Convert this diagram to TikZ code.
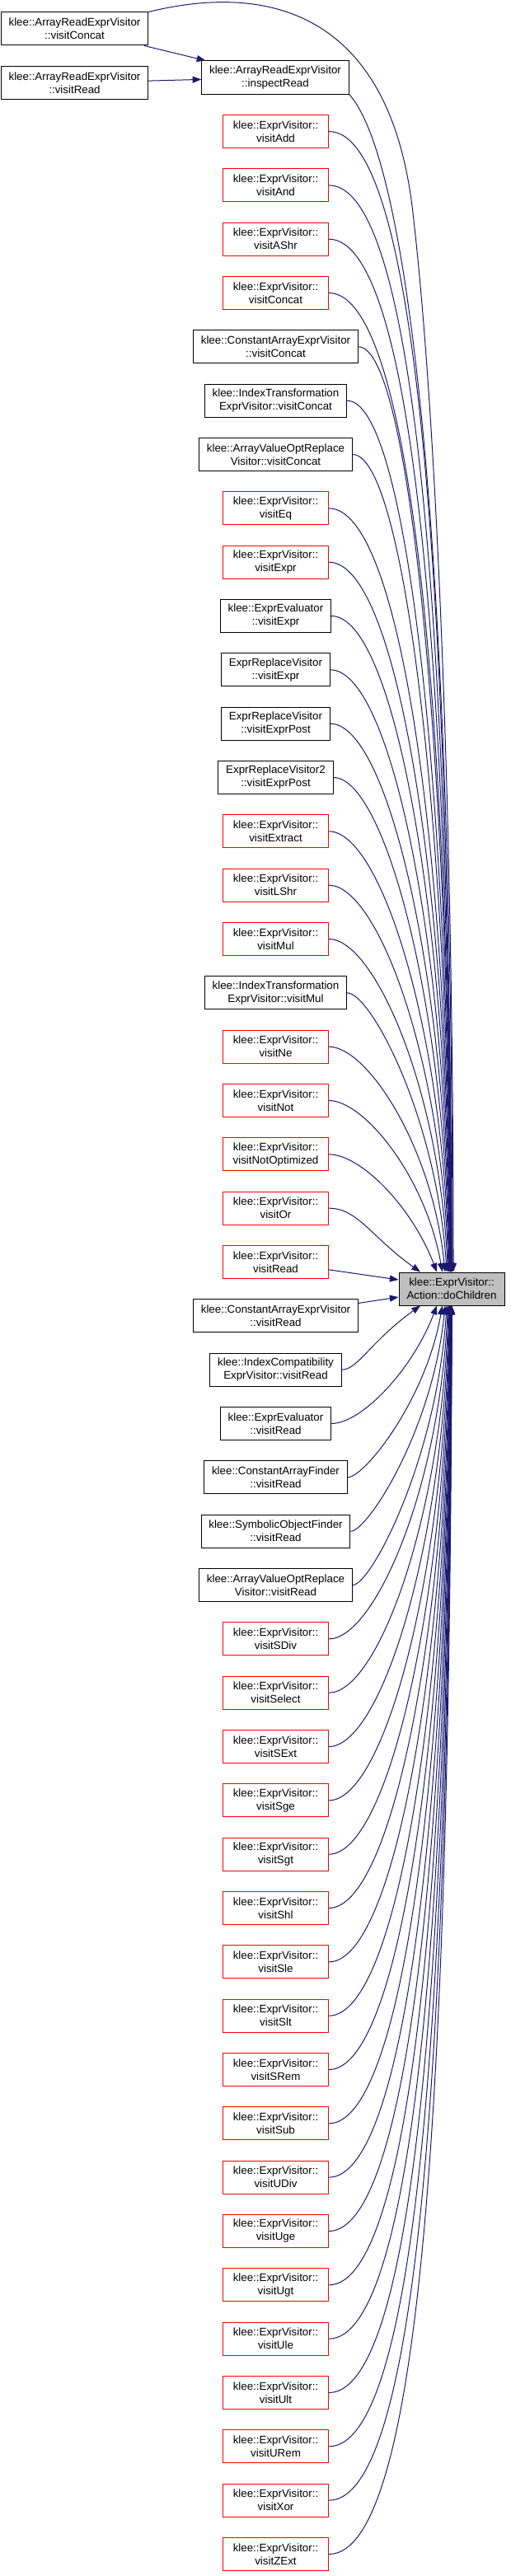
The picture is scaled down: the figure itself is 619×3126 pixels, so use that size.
\documentclass[tikz,border=0pt]{standalone}
\usepackage{fontspec}
\setmainfont{Liberation Sans}
\usetikzlibrary{positioning,calc,arrows.meta}

\definecolor{edgeblue}{HTML}{191970}
\definecolor{nodegray}{HTML}{BFBFBF}
\tikzset{
  fn/.style={draw=black, line width=0.75pt, rectangle, minimum height=30pt, minimum width=96pt,
    inner xsep=7pt, inner ysep=2pt, align=center, font=\fontsize{10}{12}\selectfont},
  fnred/.style={fn, draw=red},
  fnmain/.style={fn, fill=nodegray},
  call/.style={edgeblue, line width=0.75pt, -{Triangle[length=8pt,width=6pt]}}
}

\begin{document}
\begin{tikzpicture}[x=0.75pt, y=-0.75pt, node distance=18.25pt]
  \useasboundingbox (0,0) rectangle (619,3126);

  % called function
  \node[fnmain] (doch) at (548,1564) {klee::ExprVisitor::\\Action::doChildren};

  % ArrayReadExprVisitor
  \node[fn] (aconcat) at (90.5,35) {klee::ArrayReadExprVisitor\\::visitConcat};
  \node[fn] (aread) at (90.5,100.5) {klee::ArrayReadExprVisitor\\::visitRead};
  \node[fn] (inspect) at (334,94) {klee::ArrayReadExprVisitor\\::inspectRead};

  % callers above
  \node[fnred] (vadd) at (334.5,159.5) {klee::ExprVisitor::\\visitAdd};
  \node[fnred, below=of vadd] (vand) {klee::ExprVisitor::\\visitAnd};
  \node[fnred, below=of vand] (vashr) {klee::ExprVisitor::\\visitAShr};
  \node[fnred, below=of vashr] (vconcat) {klee::ExprVisitor::\\visitConcat};
  \node[fn, below=of vconcat] (caconcat) {klee::ConstantArrayExprVisitor\\::visitConcat};
  \node[fn, below=of caconcat] (itconcat) {klee::IndexTransformation\\ExprVisitor::visitConcat};
  \node[fn, below=of itconcat] (avconcat) {klee::ArrayValueOptReplace\\Visitor::visitConcat};
  \node[fnred, below=of avconcat] (veq) {klee::ExprVisitor::\\visitEq};
  \node[fnred, below=of veq] (vexpr) {klee::ExprVisitor::\\visitExpr};
  \node[fn, below=of vexpr] (eeexpr) {klee::ExprEvaluator\\::visitExpr};
  \node[fn, below=of eeexpr] (erexpr) {ExprReplaceVisitor\\::visitExpr};
  \node[fn, below=of erexpr] (erpost) {ExprReplaceVisitor\\::visitExprPost};
  \node[fn, below=of erpost] (ertwopost) {ExprReplaceVisitor2\\::visitExprPost};
  \node[fnred, below=of ertwopost] (vextract) {klee::ExprVisitor::\\visitExtract};
  \node[fnred, below=of vextract] (vlshr) {klee::ExprVisitor::\\visitLShr};
  \node[fnred, below=of vlshr] (vmul) {klee::ExprVisitor::\\visitMul};
  \node[fn, below=of vmul] (itmul) {klee::IndexTransformation\\ExprVisitor::visitMul};
  \node[fnred, below=of itmul] (vne) {klee::ExprVisitor::\\visitNe};
  \node[fnred, below=of vne] (vnot) {klee::ExprVisitor::\\visitNot};
  \node[fnred, below=of vnot] (vnotopt) {klee::ExprVisitor::\\visitNotOptimized};
  \node[fnred, below=of vnotopt] (vor) {klee::ExprVisitor::\\visitOr};
  \node[fnred, below=of vor] (vread) {klee::ExprVisitor::\\visitRead};

  % callers below
  \node[fn, below=of vread] (caread) {klee::ConstantArrayExprVisitor\\::visitRead};
  \node[fn, below=of caread] (icread) {klee::IndexCompatibility\\ExprVisitor::visitRead};
  \node[fn, below=of icread] (eeread) {klee::ExprEvaluator\\::visitRead};
  \node[fn, below=of eeread] (cfread) {klee::ConstantArrayFinder\\::visitRead};
  \node[fn, below=of cfread] (soread) {klee::SymbolicObjectFinder\\::visitRead};
  \node[fn, below=of soread] (avread) {klee::ArrayValueOptReplace\\Visitor::visitRead};
  \node[fnred, below=of avread] (vsdiv) {klee::ExprVisitor::\\visitSDiv};
  \node[fnred, below=of vsdiv] (vselect) {klee::ExprVisitor::\\visitSelect};
  \node[fnred, below=of vselect] (vsext) {klee::ExprVisitor::\\visitSExt};
  \node[fnred, below=of vsext] (vsge) {klee::ExprVisitor::\\visitSge};
  \node[fnred, below=of vsge] (vsgt) {klee::ExprVisitor::\\visitSgt};
  \node[fnred, below=of vsgt] (vshl) {klee::ExprVisitor::\\visitShl};
  \node[fnred, below=of vshl] (vsle) {klee::ExprVisitor::\\visitSle};
  \node[fnred, below=of vsle] (vslt) {klee::ExprVisitor::\\visitSlt};
  \node[fnred, below=of vslt] (vsrem) {klee::ExprVisitor::\\visitSRem};
  \node[fnred, below=of vsrem] (vsub) {klee::ExprVisitor::\\visitSub};
  \node[fnred, below=of vsub] (vudiv) {klee::ExprVisitor::\\visitUDiv};
  \node[fnred, below=of vudiv] (vuge) {klee::ExprVisitor::\\visitUge};
  \node[fnred, below=of vuge] (vugt) {klee::ExprVisitor::\\visitUgt};
  \node[fnred, below=of vugt] (vule) {klee::ExprVisitor::\\visitUle};
  \node[fnred, below=of vule] (vult) {klee::ExprVisitor::\\visitUlt};
  \node[fnred, below=of vult] (vurem) {klee::ExprVisitor::\\visitURem};
  \node[fnred, below=of vurem] (vxor) {klee::ExprVisitor::\\visitXor};
  \node[fnred, below=of vxor] (vzext) {klee::ExprVisitor::\\visitZExt};

  % calls
  \draw[call] (aconcat) -- (inspect);
  \draw[call] (aread) -- (inspect);
  \draw[call] (aconcat.north east) .. controls (320,-20) and (470,10) .. (500,250)
    .. controls (530,500) and (550,1000) .. ($(doch.north)+(2,0)$);
  \draw[call] (inspect.south east) .. controls (500,200) and (549,700) .. ($(doch.north)+(1,0)$);

  \foreach \n [count=\i] in {vadd,vand,vashr,vconcat,caconcat,itconcat,avconcat,veq,vexpr,
      eeexpr,erexpr,erpost,ertwopost,vextract,vlshr,vmul,itmul,vne,vnot,vnotopt,vor} {
    \pgfmathsetmacro{\k}{22-\i}
    \pgfmathsetmacro{\yn}{159.5+(\i-1)*65.333}
    \pgfmathsetmacro{\xa}{430+4*\k}
    \pgfmathsetmacro{\xe}{550-40/\k}
    \pgfmathsetmacro{\xb}{\xe-60/\k}
    \pgfmathsetmacro{\yb}{\yn+0.45*(1543-\yn)}
    \draw[call] (\n) .. controls (\xa,\yn) and (\xb,\yb) .. ($(doch.north)+({\xe-548},0)$);
  }

  \draw[call] (vread) -- ($(doch.west)+(0,-11)$);
  \draw[call] (caread) -- ($(doch.west)+(0,10)$);

  \foreach \n [count=\i] in {icread,eeread,cfread,soread,avread,vsdiv,vselect,vsext,vsge,vsgt,
      vshl,vsle,vslt,vsrem,vsub,vudiv,vuge,vugt,vule,vult,vurem,vxor,vzext} {
    \pgfmathsetmacro{\yn}{1662.2+(\i-1)*65.333}
    \pgfmathsetmacro{\xa}{430+4*\i}
    \pgfmathsetmacro{\xe}{550-40/\i}
    \pgfmathsetmacro{\xb}{\xe-60/\i}
    \pgfmathsetmacro{\yb}{\yn-0.45*(\yn-1585)}
    \draw[call] (\n) .. controls (\xa,\yn) and (\xb,\yb) .. ($(doch.south)+({\xe-548},0)$);
  }
\end{tikzpicture}
\end{document}
